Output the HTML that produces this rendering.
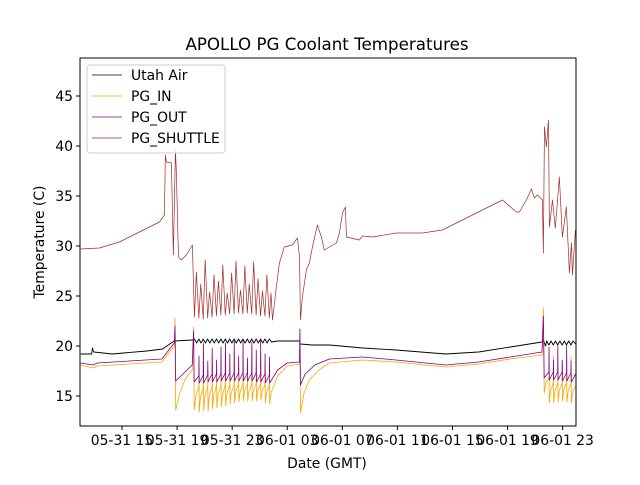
<!DOCTYPE html>
<html><head><meta charset="utf-8"><style>
html,body{margin:0;padding:0;background:#fff}
svg text{font-family:"DejaVu Sans","Liberation Sans",sans-serif;fill:#000}
</style></head><body>
<svg id="chart" width="640" height="480" viewBox="0 0 640 480" xmlns="http://www.w3.org/2000/svg">
<rect width="640" height="480" fill="#fff"/>
<text x="327" y="50" font-size="16.7" text-anchor="middle">APOLLO PG Coolant Temperatures</text>
<g id="plot"></g>
<g id="axes"></g>
<text x="327" y="468" font-size="13.9" text-anchor="middle">Date (GMT)</text>
<text transform="translate(44,242) rotate(-90)" font-size="13.9" text-anchor="middle">Temperature (C)</text>
<g>
<rect x="87" y="65" width="138" height="88" rx="3" fill="#fff" fill-opacity="0.8" stroke="#ccc"/>
<g><line x1="92" y1="75" x2="122" y2="75" stroke="#000" stroke-width="0.8"/><text x="131" y="80" font-size="13.9">Utah Air</text></g>
<g><line x1="92" y1="96" x2="122" y2="96" stroke="#ffa500" stroke-width="0.8"/><text x="131" y="101" font-size="13.9">PG_IN</text></g>
<g><line x1="92" y1="117" x2="122" y2="117" stroke="#800080" stroke-width="0.8"/><text x="131" y="122" font-size="13.9">PG_OUT</text></g>
<g><line x1="92" y1="138" x2="122" y2="138" stroke="#a52a2a" stroke-width="0.8"/><text x="131" y="143" font-size="13.9">PG_SHUTTLE</text></g>
</g>
</svg>
<script>
// hours since 05-31 12:00 GMT
const xTickHours=[3,7,11,15,19,23,27,31,35];
const xTickLabels=["05-31 15","05-31 19","05-31 23","06-01 03","06-01 07","06-01 11","06-01 15","06-01 19","06-01 23"];
const yTicks=[15,20,25,30,35,40,45];

const airT=[0,0.8,0.85,0.95,2.3,4.8,5.95,6.25,6.8,8.1,8.26,8.42,8.58,8.74,8.90,9.06,9.22,9.38,9.54,9.70,9.86,10.02,10.18,10.34,10.5,10.66,10.82,10.98,11.14,11.30,11.46,11.62,11.78,11.94,12.1,12.26,12.42,12.58,12.74,12.9,13.06,13.22,13.38,13.54,13.7,13.86,14.3,15.9,15.95,16.8,18.06,20.5,22.9,26.5,28.9,31.2,33.5,33.6,33.76,33.84,34.0,34.16,34.32,34.48,34.64,34.8,34.96,35.12,35.28,35.44,35.6,35.76,35.95];
const airV=[19.2,19.2,19.8,19.4,19.2,19.5,19.7,20.0,20.5,20.6,20.7,20.3,20.7,20.3,20.7,20.3,20.7,20.3,20.7,20.3,20.7,20.3,20.7,20.3,20.7,20.3,20.7,20.3,20.7,20.3,20.7,20.3,20.7,20.3,20.7,20.3,20.7,20.3,20.7,20.3,20.7,20.3,20.7,20.3,20.7,20.4,20.5,20.5,20.2,20.1,20.1,19.8,19.6,19.2,19.4,19.9,20.4,20.6,20.0,20.5,20.1,20.5,20.1,20.5,20.1,20.5,20.1,20.5,20.1,20.5,20.1,20.5,20.2];

const inT=[0,0.9,1.2,5.9,6.4,6.8,6.85,6.9,7.2,7.6,8.1,8.2,8.24,8.36,
8.58,8.59,8.61,8.7, 8.90,8.91,8.93,9.02, 9.22,9.23,9.25,9.34, 9.54,9.55,9.57,9.66, 9.86,9.87,9.89,9.98, 10.18,10.19,10.21,10.3, 10.50,10.51,10.53,10.62, 10.82,10.83,10.85,10.94, 11.14,11.15,11.17,11.26, 11.46,11.47,11.49,11.58, 11.78,11.79,11.81,11.9, 12.10,12.11,12.13,12.22, 12.42,12.43,12.45,12.54, 12.74,12.75,12.77,12.86, 13.06,13.07,13.09,13.18, 13.38,13.39,13.41,13.5, 13.70,13.71,13.73,13.82,
14.3,15.0,15.89,15.92,15.96,16.2,16.6,17.3,18.06,20.46,22.9,26.5,28.9,31.2,33.5,33.6,33.66,
33.78,34.0,34.01,34.03,34.12, 34.32,34.33,34.35,34.44, 34.64,34.65,34.67,34.76, 34.96,34.97,34.99,35.08, 35.28,35.29,35.31,35.4, 35.60,35.61,35.63,35.72, 35.95];
const inV=[18.1,17.8,18.0,18.4,19.3,20.0,22.8,13.6,15.3,16.7,17.6,21.9,13.6,15.0,
15.9,17.0,13.4,14.9, 15.8,20.4,13.5,14.9, 15.9,16.5,13.5,15.0, 16.0,19.0,13.7,15.0, 16.0,16.8,13.8,15.1, 16.0,18.0,13.9,15.1, 16.1,20.0,14.0,15.2, 16.1,17.0,14.2,15.3, 16.1,19.5,14.3,15.4, 16.2,16.6,14.4,15.4, 16.2,20.2,14.5,15.5, 16.2,17.0,14.5,15.5, 16.2,20.0,14.5,15.5, 16.2,18.0,14.5,15.5, 16.2,19.0,14.6,15.5, 16.1,17.2,14.3,15.4, 16.1,16.6,14.2,15.3,
17.0,18.0,18.2,21.7,13.3,15.2,16.6,17.6,18.3,18.6,18.4,17.9,18.2,18.7,19.1,23.8,15.3,
16.3,16.8,17.5,14.3,15.5, 16.3,19.0,14.3,15.5, 16.3,17.0,14.4,15.6, 16.3,18.5,14.5,15.6, 16.3,17.2,14.4,15.5, 16.2,19.0,14.3,15.4, 16.0];

const outT=[0,0.9,1.2,5.9,6.4,6.8,6.85,6.9,8.1,8.2,8.24,
8.58,8.59,8.61, 8.90,8.91,8.93, 9.22,9.23,9.25, 9.54,9.55,9.57, 9.86,9.87,9.89, 10.18,10.19,10.21, 10.50,10.51,10.53, 10.82,10.83,10.85, 11.14,11.15,11.17, 11.46,11.47,11.49, 11.78,11.79,11.81, 12.10,12.11,12.13, 12.42,12.43,12.45, 12.74,12.75,12.77, 13.06,13.07,13.09, 13.38,13.39,13.41, 13.70,13.71,13.73,
14.3,15.0,15.89,15.92,15.96,16.3,17.0,18.06,20.46,22.9,26.5,28.9,31.2,33.5,33.6,33.66,
34.0,34.01,34.03, 34.32,34.33,34.35, 34.64,34.65,34.67, 34.96,34.97,34.99, 35.28,35.29,35.31, 35.60,35.61,35.63, 35.95];
const outV=[18.3,18.1,18.3,18.7,19.6,20.3,22.0,16.5,18.1,21.5,16.4,
17.0,19.0,16.3, 17.1,20.2,16.3, 17.1,18.5,16.4, 17.2,19.8,16.4, 17.2,18.6,16.4, 17.2,19.9,16.5, 17.3,20.3,16.5, 17.3,19.2,16.5, 17.3,20.5,16.5, 17.3,19.0,16.5, 17.3,20.6,16.5, 17.3,18.8,16.5, 17.3,20.4,16.5, 17.3,19.6,16.4, 17.2,20.7,16.4, 17.2,19.2,16.3, 17.1,18.9,16.3,
17.6,18.3,18.4,21.7,16.1,17.2,18.1,18.7,18.9,18.6,18.1,18.4,18.9,19.4,23.0,16.8,
17.4,19.9,16.6, 17.4,18.6,16.6, 17.4,20.0,16.6, 17.4,18.6,16.5, 17.3,20.1,16.5, 17.3,18.5,16.4, 17.2];

const shT=[0,1.36,2.81,4.26,5.72,6.08,6.15,6.22,6.59,6.73,6.88,6.95,7.10,7.31,7.68,8.11,8.26,
8.40,8.58,8.72,8.90,9.04,9.22,9.36,9.54,9.68,9.86,10.0,10.18,10.32,10.5,10.64,10.82,10.96,11.14,11.28,11.46,11.6,11.78,11.92,12.1,12.24,12.42,12.56,12.74,12.88,13.06,13.2,13.38,13.52,13.7,13.82,13.93,
14.21,14.43,14.79,15.37,15.74,15.89,15.96,16.1,16.39,16.61,16.83,17.19,17.48,17.69,18.06,18.57,18.79,19.01,19.22,19.3,20.24,20.46,21.18,22.93,24.81,26.27,27.72,29.46,30.63,31.64,31.86,32.37,32.73,32.95,33.17,33.53,33.6,33.68,33.82,33.97,34.04,34.26,34.47,34.76,34.98,35.27,35.49,35.64,35.71,35.93];
const shV=[29.7,29.8,30.4,31.4,32.4,33.1,39.1,38.4,38.3,29.1,39.6,37.3,28.9,28.6,29.1,30.1,22.9,
27.4,22.8,26.2,22.7,28.6,22.8,25.4,22.9,27.1,23.0,26.5,23.1,28.1,23.1,25.3,23.2,27.3,23.2,28.5,23.3,25.6,23.2,28.0,23.3,26.2,23.2,28.4,23.1,26.7,23.0,25.5,23.0,27.1,22.8,25.3,22.6,
25.9,28.3,29.9,30.1,30.8,28.9,22.6,24.9,27.6,28.3,29.9,32.1,30.9,29.6,29.9,30.3,31.3,33.3,33.9,30.9,30.6,31.0,30.9,31.3,31.3,31.6,32.6,33.8,34.6,33.4,33.4,34.6,35.7,34.8,35.1,34.6,29.3,41.9,39.9,42.6,31.9,34.6,31.8,36.9,30.9,33.9,27.3,30.3,27.1,31.6];

const L=80,R=576,T=58,B=426;
const hMin=-0.05,hMax=35.97,vMin=12.0,vMax=48.8;
function xs(h){return L+(h-hMin)/(hMax-hMin)*(R-L);}
function ys(v){return B-(v-vMin)/(vMax-vMin)*(B-T);}
const NS="http://www.w3.org/2000/svg";
const plot=document.getElementById('plot');
const axes=document.getElementById('axes');
const clip=document.createElementNS(NS,'clipPath');clip.setAttribute('id','cp');
const cr=document.createElementNS(NS,'rect');cr.setAttribute('x',L);cr.setAttribute('y',T);cr.setAttribute('width',R-L);cr.setAttribute('height',B-T);
clip.appendChild(cr);plot.appendChild(clip);
plot.setAttribute('clip-path','url(#cp)');

function drawSeries(t,v,color,name,w){
  const p=document.createElementNS(NS,'path');
  let d='';
  for(let i=0;i<t.length;i++){d+=(i?'L':'M')+xs(t[i]).toFixed(2)+' '+ys(v[i]).toFixed(2);}
  p.setAttribute('d',d);p.setAttribute('fill','none');p.setAttribute('stroke',color);
  p.setAttribute('stroke-width',w);p.setAttribute('stroke-linejoin','round');
  
  
  plot.appendChild(p);
}
drawSeries(airT,airV,'#000','series-utah-air',0.9);
drawSeries(inT,inV,'#ffa500','series-pg-in',0.8);
drawSeries(outT,outV,'#800080','series-pg-out',0.8);
drawSeries(shT,shV,'#a52a2a','series-pg-shuttle',0.7);

const frame=document.createElementNS(NS,'rect');
frame.setAttribute('x',L);frame.setAttribute('y',T);frame.setAttribute('width',R-L);frame.setAttribute('height',B-T);
frame.setAttribute('fill','none');frame.setAttribute('stroke','#000');frame.setAttribute('stroke-width','1');


axes.appendChild(frame);

xTickHours.forEach((h,i)=>{
  const x=xs(h);
  const ln=document.createElementNS(NS,'line');
  ln.setAttribute('x1',x);ln.setAttribute('x2',x);ln.setAttribute('y1',B);ln.setAttribute('y2',B+4);ln.setAttribute('stroke','#000');
  
  
  axes.appendChild(ln);
  const tx=document.createElementNS(NS,'text');
  tx.setAttribute('x',x);tx.setAttribute('y',B+19);tx.setAttribute('font-size','13.9');tx.setAttribute('text-anchor','middle');
  tx.textContent=xTickLabels[i];
  
  
  axes.appendChild(tx);
});
yTicks.forEach(v=>{
  const y=ys(v);
  const ln=document.createElementNS(NS,'line');
  ln.setAttribute('x1',L-4);ln.setAttribute('x2',L);ln.setAttribute('y1',y);ln.setAttribute('y2',y);ln.setAttribute('stroke','#000');
  
  
  axes.appendChild(ln);
  const tx=document.createElementNS(NS,'text');
  tx.setAttribute('x',L-7);tx.setAttribute('y',y+5);tx.setAttribute('font-size','13.9');tx.setAttribute('text-anchor','end');
  tx.textContent=v;
  
  
  axes.appendChild(tx);
});
</script>
</body></html>
